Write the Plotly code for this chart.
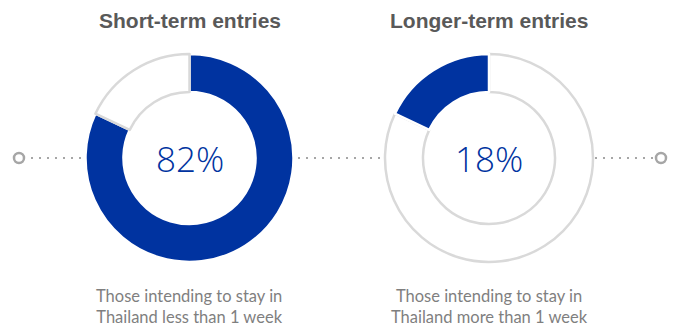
import plotly.graph_objects as go

titles = ["Short-term entries", "Longer-term entries"]
shares = [82, 18]
captions = ["Those intending to stay in<br>Thailand less than 1 week",
            "Those intending to stay in<br>Thailand more than 1 week"]

BLUE = "#0033A0"
RING = "#D9D9D9"
W, H = 678, 328

centers_x = [189.5, 489.0]
center_y = 158.0
R = 104.0

fig = go.Figure()

for i, (share, cx) in enumerate(zip(shares, centers_x)):
    if i == 0:
        vals = [share, 100 - share]
        cols = [BLUE, "#FFFFFF"]
        lcols = ["#FFFFFF", RING]
    else:
        vals = [100 - share, share]
        cols = ["#FFFFFF", BLUE]
        lcols = [RING, "#FFFFFF"]
    fig.add_trace(go.Pie(
        values=vals, sort=False, direction="clockwise", rotation=0,
        hole=0.635, textinfo="none", hoverinfo="skip", showlegend=False,
        marker=dict(colors=cols, line=dict(color=lcols, width=2.5)),
        domain=dict(x=[(cx - R) / W, (cx + R) / W],
                    y=[(H - center_y - R) / H, (H - center_y + R) / H]),
    ))
    fig.add_annotation(x=cx / W, y=(H - center_y) / H, xref="paper", yref="paper",
                       xanchor="center", yanchor="middle",
                       text=f"{share}%", showarrow=False,
                       font=dict(family="Open Sans", size=35, color=BLUE, weight=300))
    fig.add_annotation(x=cx / W, y=(H - 20) / H, xref="paper", yref="paper",
                       xanchor="center", yanchor="middle",
                       text=f"<b>{titles[i]}</b>", showarrow=False,
                       font=dict(family="Liberation Sans, Arial", size=21, color="#595959"))
    fig.add_annotation(x=cx / W, y=(H - 306) / H, xref="paper", yref="paper",
                       xanchor="center", yanchor="middle",
                       text=captions[i], showarrow=False, align="center",
                       font=dict(family="Lato, Calibri, Arial", size=16.5, color="#7F7F7F"))

DOT = "#A6A6A6"
def hline(x0, x1):
    return dict(type="line", xref="paper", yref="paper",
                x0=x0 / W, x1=x1 / W, y0=(H - center_y) / H, y1=(H - center_y) / H,
                line=dict(color=DOT, width=2, dash="2px,6px"))

def ring(cx):
    r = 5
    return dict(type="circle", xref="paper", yref="paper",
                x0=(cx - r) / W, x1=(cx + r) / W,
                y0=(H - center_y - r) / H, y1=(H - center_y + r) / H,
                line=dict(color=DOT, width=2.5), fillcolor="white")

fig.update_layout(
    width=W, height=H, margin=dict(l=0, r=0, t=0, b=0),
    paper_bgcolor="white", plot_bgcolor="white",
    shapes=[hline(31, 85), hline(298, 382), hline(595, 656), ring(19), ring(661)],
)

fig.write_html("out.html")
